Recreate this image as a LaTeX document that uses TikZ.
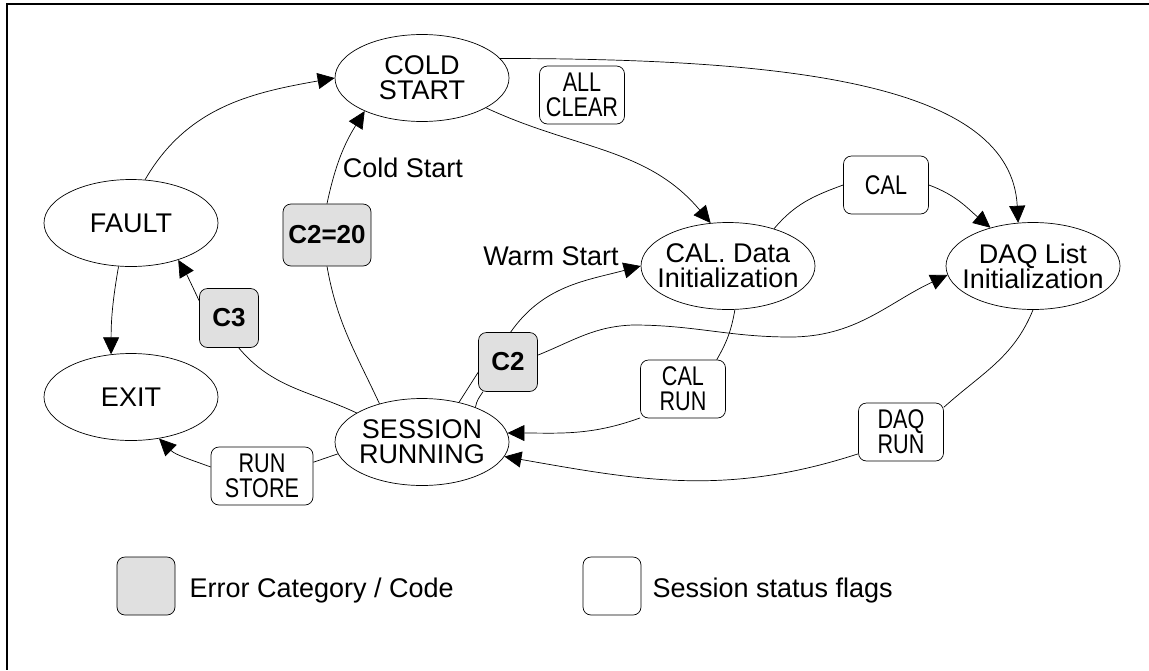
\documentclass[tikz,border=0pt]{standalone}
\usepackage{fontspec}
\setmainfont{Liberation Sans}
\newfontfamily\narrowfont[FakeStretch=0.8]{Liberation Sans}
\usepackage{tikz}
\usetikzlibrary{shapes.geometric, arrows.meta}
\definecolor{errgray}{HTML}{E0E0E0}

\begin{document}
\begin{tikzpicture}[x=1pt, y=1pt,
  state/.style={ellipse, draw, line width=0.7pt, minimum width=174pt, minimum height=87pt,
    inner xsep=-12pt, inner ysep=0pt, align=center, font=\fontsize{27}{25}\selectfont},
  flag/.style={rectangle, rounded corners=8pt, draw, line width=0.7pt, minimum width=85pt,
    minimum height=58pt, inner sep=0pt, align=center, font=\narrowfont\fontsize{27}{25}\selectfont},
  errcode/.style={rectangle, rounded corners=8pt, draw, fill=errgray, line width=0.7pt,
    minimum width=59pt, minimum height=59pt, inner sep=0pt, font=\bfseries\fontsize{26}{25}\selectfont},
  lbl/.style={font=\fontsize{27}{25}\selectfont},
  conn/.style={line width=0.7pt},
  arr/.style={conn, -{Triangle[length=17pt, width=16pt]}}]
\useasboundingbox (0,0) rectangle (1149,-670);
\draw[line width=1.3pt] (1149,-4) -- (7,-4) -- (7,-670);

\node[state] (cold) at (422,-78) {COLD\\START};
\node[state] (fault) at (131,-223) {FAULT};
\node[state] (exit) at (131,-397) {EXIT};
\node[state] (session) at (422,-442) {SESSION\\RUNNING};
\node[state] (caldata) at (728,-266) {CAL. Data\\Initialization};
\node[state] (daqlist) at (1033,-266) {DAQ List\\Initialization};

\node[flag] (allclear) at (582,-95) {ALL\\CLEAR};
\node[flag] (cal) at (886,-185) {CAL};
\node[flag] (calrun) at (683,-389) {CAL\\RUN};
\node[flag] (daqrun) at (901,-432) {DAQ\\RUN};
\node[flag, minimum width=102pt] (runstore) at (262,-476) {RUN\\STORE};

\node[errcode, minimum width=88pt, minimum height=62pt] (c2cold) at (327,-235) {C2=20};
\node[errcode] (c3) at (229,-318) {C3};
\node[errcode] (c2warm) at (508,-362) {C2};

\node[lbl] (coldlbl) at (403,-168) {Cold Start};
\node[lbl] (warmlbl) at (551,-256) {Warm Start};

\draw[arr] (fault.72) to[out=60, in=190] (cold.180);
\draw[arr] (c2cold.north) to[out=78, in=238] (cold.210);
\draw[conn] (session.138) to[out=115, in=-80] (c2cold.south);
\draw[conn] (session.156) to[out=155, in=-50] (c3.-72);
\draw[arr] (c3.150) to[out=115, in=-60] (fault.-38);
\draw[conn] (session.188) -- (runstore.15);
\draw[arr] (runstore.170) to[out=160, in=-45] (exit.-56);
\draw[arr] (fault.-106) to[out=-100, in=90] (exit.115);

\draw[arr] (cold.14) .. controls +(0:300) and +(93:137) .. (daqlist.109);
\draw[arr] (cold.-25) to[out=-25, in=130] (caldata.112);
\draw[conn] (caldata.39) to[out=50, in=200] (cal.west);
\draw[arr] (cal.east) to[out=-20, in=140] (daqlist.138);
\draw[conn] (caldata.-81) to[out=-100, in=60] (calrun.41);
\draw[arr] (calrun.-146) to[out=200, in=0] (session.6);
\draw[conn] (daqlist.south) to[out=-112, in=42] (daqrun.30);
\draw[arr] (daqrun.-153) to[out=198, in=-10] (session.-10);

\draw[conn] (session.47) -- (c2warm.-161);
\draw[arr] (c2warm.85) to[out=55, in=195] (caldata.west);
\draw[conn] (session.33) to[out=80, in=-125] (c2warm.-130);
\draw[arr] (c2warm.13) to[out=22, in=182] (633,-325) to[out=0, in=180] (790,-337)
  to[out=0, in=205] (daqlist.186);

\node[errcode, minimum width=58pt, minimum height=58pt] (keyerr) at (146,-586) {};
\node[lbl, anchor=west] (keyerrtxt) at (186,-591) {Error Category / Code};
\node[flag, minimum width=58pt] (keyflag) at (612,-586) {};
\node[lbl, anchor=west] (keyflagtxt) at (649,-591) {Session status flags};
\end{tikzpicture}
\end{document}
